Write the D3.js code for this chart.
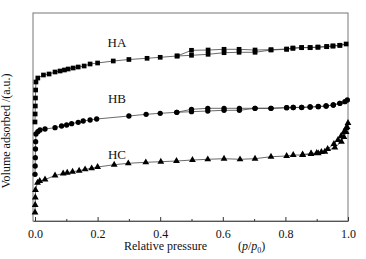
<!DOCTYPE html>
<html>
<head>
<meta charset="utf-8">
<script src="https://cdn.jsdelivr.net/npm/d3@7"></script>
<style>
  body { margin: 0; background: #fff; }
  text { font-family: "Liberation Serif", "Times New Roman", serif; fill: #111; }
</style>
</head>
<body>
<div id="chart"></div>
<script>
// data: [p/p0, volume (a.u.)]
const haAds = [[0,99],[0.0005,107],[0.001,115],[0.0015,123],[0.002,131],[0.003,139],[0.009,143],[0.027,146],[0.045,147],
  [0.064,149],[0.08,150],[0.094,151],[0.106,152],[0.122,153],[0.138,154],[0.157,155],[0.176,157],[0.2,158],[0.25,160],
  [0.3,161.5],[0.358,162.7],[0.4,163.7],[0.454,165],[0.5,165.7],[0.553,166.7],[0.604,168.3],[0.652,168.7],[0.703,168.7],
  [0.754,171],[0.804,171.7],[0.824,172.7],[0.852,173.3],[0.879,173.3],[0.904,173.7],[0.932,174.3],[0.952,175],[0.974,175.7],[0.994,177]]
const haDes = [[0.994,177],[0.974,175.7],[0.952,175],[0.932,174.5],[0.904,174],[0.879,173.5],[0.852,173.5],[0.824,173],
  [0.804,172],[0.754,171.3],[0.703,171],[0.652,171.7],[0.604,171.7],[0.553,171],[0.5,170.7],[0.454,165]]

const hbAds = [[0,46.7],[0.0005,55],[0.001,63.3],[0.0015,72],[0.002,79.3],[0.003,87],[0.009,89.3],[0.016,91],[0.032,92],
  [0.064,93.3],[0.085,95],[0.101,96],[0.117,97.3],[0.138,98.7],[0.154,100],[0.176,101],[0.197,102],[0.3,105],[0.355,106.7],
  [0.4,107.7],[0.453,108.7],[0.5,109.3],[0.552,110],[0.604,110.7],[0.653,110.7],[0.703,112.7],[0.754,112.7],[0.804,113.3],
  [0.825,113.5],[0.852,113.5],[0.879,114],[0.905,114.3],[0.93,115],[0.953,116],[0.974,117.7],[0.99,119.3],[0.998,121]]
const hbDes = [[0.998,121],[0.974,117.7],[0.953,116],[0.93,115],[0.905,114.5],[0.879,114],[0.852,113.7],[0.825,113.5],
  [0.804,113.3],[0.754,112.7],[0.703,112.7],[0.653,112.7],[0.604,112.7],[0.552,112.7],[0.5,111.7],[0.453,108.7]]

const hcAds = [[0,8.5],[0.0005,16],[0.001,23.5],[0.0015,31],[0.008,38.3],[0.015,40],[0.032,41.5],[0.064,45.5],[0.09,47.5],
  [0.103,48.3],[0.12,49.3],[0.141,50.3],[0.16,51.7],[0.181,52.7],[0.2,54],[0.253,56.3],[0.298,57.7],[0.354,58.7],
  [0.402,59.3],[0.452,60],[0.503,61],[0.552,61.7],[0.604,62.3],[0.655,61.7],[0.703,62.3],[0.754,64.3],[0.804,65],
  [0.825,66],[0.855,66],[0.882,67],[0.905,67.7],[0.926,69.3],[0.958,73.5],[0.979,79.3],[0.987,84],[0.994,89],[0.997,94],[1.0,98]]
const hcDes = [[1.0,98],[0.994,93],[0.987,89],[0.978,85],[0.968,81],[0.955,77],[0.935,72],[0.915,69],[0.9,68],
  [0.882,67.5],[0.855,66.5]]

const seriesLabels = [
  {name: 'HA', x: 0.262, y: 174},
  {name: 'HB', x: 0.262, y: 118},
  {name: 'HC', x: 0.262, y: 62}
]
const majorTicks = [0, 0.2, 0.4, 0.6, 0.8, 1.0]
const minorTicks = [0.1, 0.3, 0.5, 0.7, 0.9]

const w = 366, h = 259
const plot = {left: 33, right: 348, top: 13, bottom: 221}

const x = d3.scaleLinear().domain([-0.0064, 1.0]).range([plot.left, plot.right])
const y = d3.scaleLinear().domain([0, 208]).range([plot.bottom, plot.top])

const svg = d3.select('#chart').append('svg')
  .attr('width', w).attr('height', h)

// frame
svg.append('rect')
  .attr('x', plot.left).attr('y', plot.top)
  .attr('width', plot.right - plot.left).attr('height', plot.bottom - plot.top)
  .attr('fill', 'none').attr('stroke', '#777').attr('stroke-width', 1)

// bottom axis, ticks pointing in
const xAxis = d3.axisBottom(x).tickValues(majorTicks).tickSize(-4).tickPadding(8)
  .tickFormat(d3.format('.1f')).tickSizeOuter(0)
const gx = svg.append('g')
  .attr('transform', 'translate(0,' + plot.bottom + ')')
  .call(xAxis)
gx.select('.domain').attr('stroke', '#555')
gx.selectAll('.tick line').attr('stroke', '#333')
gx.selectAll('.tick text').attr('font-size', 12)
  .attr('font-family', '"Liberation Serif", serif').attr('fill', '#222')

const gxMinor = svg.append('g')
  .attr('transform', 'translate(0,' + plot.bottom + ')')
  .call(d3.axisBottom(x).tickValues(minorTicks).tickSize(-2).tickFormat('').tickSizeOuter(0))
gxMinor.select('.domain').remove()
gxMinor.selectAll('.tick line').attr('stroke', '#333')

const line = d3.line().x(d => x(d[0])).y(d => y(d[1]))

const series = [
  {ads: haAds, des: haDes, shape: d3.symbolSquare, size: 22},
  {ads: hbAds, des: hbDes, shape: d3.symbolCircle, size: 22},
  {ads: hcAds, des: hcDes, shape: d3.symbolTriangle, size: 20}
]

series.forEach(s => {
  [s.ads, s.des].forEach(pts => {
    svg.append('path')
      .attr('d', line(pts))
      .attr('fill', 'none')
      .attr('stroke', '#444')
      .attr('stroke-width', 0.8)
  })
  const sym = d3.symbol().type(s.shape).size(s.size)
  svg.append('g')
    .selectAll('path.point')
    .data(s.ads.concat(s.des.slice(1)))
    .join('path')
    .attr('class', 'point')
    .attr('d', sym)
    .attr('transform', d => 'translate(' + x(d[0]) + ',' + y(d[1]) + ')')
    .attr('fill', '#000')
})

// series names
svg.selectAll('text.series-label')
  .data(seriesLabels)
  .join('text')
  .attr('class', 'series-label')
  .attr('x', d => x(d.x))
  .attr('y', d => y(d.y))
  .attr('text-anchor', 'middle')
  .attr('font-size', 13)
  .text(d => d.name)

// axis titles
const xt = svg.append('text')
  .attr('x', 124).attr('y', 250)
  .attr('font-size', 12)
xt.append('tspan').text('Relative pressure')
xt.append('tspan').attr('x', 238).text('(')
xt.append('tspan').attr('font-style', 'italic').text('p')
xt.append('tspan').text('/')
xt.append('tspan').attr('font-style', 'italic').text('p')
xt.append('tspan').attr('font-size', 8).attr('dy', 3).text('0')
xt.append('tspan').attr('dy', -3).text(')')

svg.append('text')
  .attr('transform', 'translate(10,131) rotate(-90)')
  .attr('text-anchor', 'middle')
  .attr('font-size', 12)
  .text('Volume adsorbed /(a.u.)')
</script>
</body>
</html>
